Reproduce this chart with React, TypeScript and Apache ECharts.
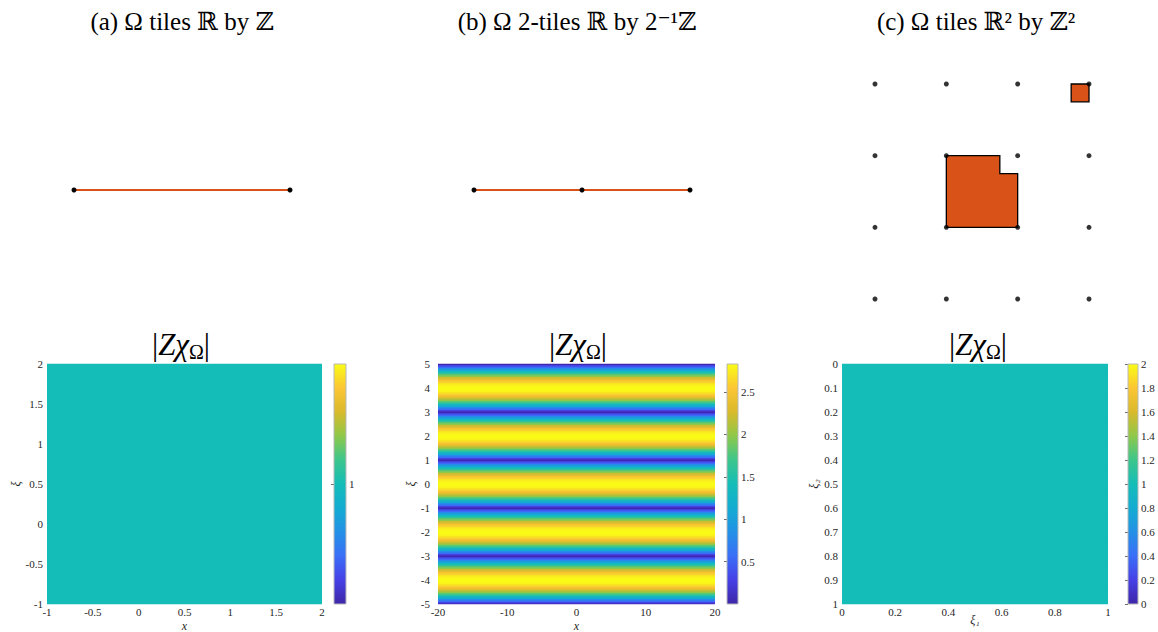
import React, { useEffect, useRef } from "react";
import * as echarts from "echarts";

const FONT = "'Liberation Serif', 'DejaVu Serif', serif";
const ORANGE = "#d95319";

// parula-like colormap stops
const PARULA = [
  "#3e26a8", "#4641e6", "#3a6ef8", "#2391e6", "#13acd2", "#14bdb8",
  "#3cc68c", "#8ec84a", "#d9ba2b", "#fcc634", "#f9fb15",
];

// ---- top row data ----
const segA = [[0, 0], [1, 0]];
const segB = [[0, 0], [0.5, 0], [1, 0]];
const latticeC = [
  [-1, 2], [0, 2], [1, 2], [2, 2],
  [-1, 1], [0, 1], [1, 1], [2, 1],
  [-1, 0], [0, 0], [1, 0], [2, 0],
  [-1, -1], [0, -1], [1, -1], [2, -1],
];
const shapeMain = [[0, 0], [1, 0], [1, 0.75], [0.75, 0.75], [0.75, 1], [0, 1]];
const shapeSmall = [[1.75, 1.75], [2, 1.75], [2, 2], [1.75, 2]];
const SHAPES = [shapeMain, shapeSmall];

// ---- heatmap (a): |Z chi| over x in [-1,2], xi in [-1,2] ----
const xRangeA = [-1, 2];
const xiA = [-1, -0.75, -0.5, -0.25, 0, 0.25, 0.5, 0.75, 1, 1.25, 1.5, 1.75, 2];
const valA = [1, 1, 1, 1, 1, 1, 1, 1, 1, 1, 1, 1, 1];
const cbarA = [0.5, 1.5];

// ---- heatmap (b): |Z chi| over x in [-20,20], xi in [-5,5] (step 0.0625) ----
const xRangeB = [-20, 20];
const xiStartB = -5;
const xiStepB = 0.0625;
const valB = [
  0.01,
  0.28, 0.55, 0.82, 1.08, 1.33, 1.57, 1.80, 2.00, 2.19, 2.35, 2.50, 2.61, 2.71, 2.78, 2.82, 2.83,
  2.82, 2.78, 2.71, 2.61, 2.50, 2.35, 2.19, 2.00, 1.80, 1.57, 1.33, 1.08, 0.82, 0.55, 0.28, 0.01,
  0.28, 0.55, 0.82, 1.08, 1.33, 1.57, 1.80, 2.00, 2.19, 2.35, 2.50, 2.61, 2.71, 2.78, 2.82, 2.83,
  2.82, 2.78, 2.71, 2.61, 2.50, 2.35, 2.19, 2.00, 1.80, 1.57, 1.33, 1.08, 0.82, 0.55, 0.28, 0.01,
  0.28, 0.55, 0.82, 1.08, 1.33, 1.57, 1.80, 2.00, 2.19, 2.35, 2.50, 2.61, 2.71, 2.78, 2.82, 2.83,
  2.82, 2.78, 2.71, 2.61, 2.50, 2.35, 2.19, 2.00, 1.80, 1.57, 1.33, 1.08, 0.82, 0.55, 0.28, 0.01,
  0.28, 0.55, 0.82, 1.08, 1.33, 1.57, 1.80, 2.00, 2.19, 2.35, 2.50, 2.61, 2.71, 2.78, 2.82, 2.83,
  2.82, 2.78, 2.71, 2.61, 2.50, 2.35, 2.19, 2.00, 1.80, 1.57, 1.33, 1.08, 0.82, 0.55, 0.28, 0.01,
  0.28, 0.55, 0.82, 1.08, 1.33, 1.57, 1.80, 2.00, 2.19, 2.35, 2.50, 2.61, 2.71, 2.78, 2.82, 2.83,
  2.82, 2.78, 2.71, 2.61, 2.50, 2.35, 2.19, 2.00, 1.80, 1.57, 1.33, 1.08, 0.82, 0.55, 0.28, 0.01,
];
const cbarB = [0, 2.83];

// ---- heatmap (c): |Z chi| over [0,1]^2 ----
const xRangeC = [0, 1];
const xiC = [0, 0.1, 0.2, 0.3, 0.4, 0.5, 0.6, 0.7, 0.8, 0.9, 1];
const valC = [1, 1, 1, 1, 1, 1, 1, 1, 1, 1, 1];
const cbarC = [0, 2];

function cells(xr: number[], xis: number[], vals: number[], half: number, lo: number, hi: number) {
  return vals.map((v, i) => [
    xr[0], xr[1],
    Math.max(lo, xis[i] - half), Math.min(hi, xis[i] + half), v,
  ]);
}

const heatRender = (params: any, api: any) => {
  const a = api.coord([api.value(0), api.value(2)]);
  const b = api.coord([api.value(1), api.value(3)]);
  const x = Math.min(a[0], b[0]);
  const y = Math.min(a[1], b[1]);
  return {
    type: "rect",
    shape: { x, y: y - 0.3, width: Math.abs(b[0] - a[0]), height: Math.abs(b[1] - a[1]) + 0.6 },
    style: { fill: api.visual("color") },
  };
};

const cbarRender = (params: any, api: any) => {
  const a = api.coord([0, api.value(2)]);
  const b = api.coord([1, api.value(3)]);
  return {
    type: "rect",
    shape: { x: a[0], y: b[1], width: b[0] - a[0], height: a[1] - b[1] },
    style: {
      fill: new echarts.graphic.LinearGradient(
        0, 1, 0, 0,
        PARULA.map((c, i) => ({ offset: i / (PARULA.length - 1), color: c }))
      ),
      stroke: "#b8b8b8",
      lineWidth: 1,
    },
  };
};

const polyRender = (params: any, api: any) => {
  const pts = SHAPES[params.dataIndex].map((p) => api.coord(p));
  return {
    type: "polygon",
    shape: { points: pts },
    style: { fill: ORANGE, stroke: "#000", lineWidth: 1.3 },
  };
};

const labelStyle = { fontFamily: FONT, fontSize: 11, color: "#262626" };
const nameStyle = { fontFamily: FONT, fontSize: 12, lineHeight: 13, fontStyle: "italic", color: "#262626" };

function hiddenAxis(min: number, max: number, gridIndex: number) {
  return { type: "value", gridIndex, min, max, show: false };
}

function heatX(gridIndex: number, min: number, max: number, interval: number, name: string, gap: number) {
  return {
    type: "value", gridIndex, min, max, interval,
    axisLine: { show: false }, axisTick: { show: false }, splitLine: { show: false },
    axisLabel: { ...labelStyle, margin: 2, lineHeight: 12 },
    name, nameLocation: "middle", nameGap: gap, nameMoveOverlap: false, nameTextStyle: nameStyle,
  };
}
function heatY(gridIndex: number, min: number, max: number, interval: number, name: string, gap: number, inverse = false, margin = 4) {
  return {
    type: "value", gridIndex, min, max, interval, inverse,
    axisLine: { show: false }, axisTick: { show: false }, splitLine: { show: false },
    axisLabel: { ...labelStyle, margin },
    name, nameLocation: "middle", nameGap: gap, nameMoveOverlap: false, nameTextStyle: nameStyle,
  };
}
function cbarY(gridIndex: number, min: number, max: number, interval: number, showEnds: boolean) {
  return {
    type: "value", gridIndex, min, max, interval, position: "right",
    axisLine: { show: false }, splitLine: { show: false },
    axisTick: { show: true, inside: true, length: 3, lineStyle: { color: "#444", width: 0.8 } },
    axisLabel: { ...labelStyle, margin: 3, showMinLabel: showEnds, showMaxLabel: showEnds },
  };
}

const titleRich = {
  i: { fontFamily: FONT, fontSize: 31, fontStyle: "italic", lineHeight: 36, fill: "#000" },
  s: { fontFamily: FONT, fontSize: 20, verticalAlign: "bottom", lineHeight: 15, fill: "#000" },
  n: { fontFamily: FONT, fontSize: 31, lineHeight: 36, fill: "#000" },
};

export default function App() {
  const ref = useRef<HTMLDivElement>(null);
  useEffect(() => {
    document.body.style.margin = "0";
    const chart = echarts.init(ref.current!, undefined, { renderer: "svg" });
    const g = (left: number, top: number, width: number, height: number) => ({
      left, top, width, height, outerBoundsMode: "none", containLabel: false,
    });
    const option: any = {
      animation: false,
      backgroundColor: "#fff",
      grid: [
        g(74, 140, 216, 100),
        g(474, 140, 216, 100),
        g(875, 84, 214, 215),
        g(47, 364, 275, 240),
        g(334, 364, 12, 240),
        g(438, 364, 277, 240),
        g(727, 364, 11, 240),
        g(842, 364, 266, 240),
        g(1128, 364, 10, 240),
      ],
      xAxis: [
        hiddenAxis(0, 1, 0),
        hiddenAxis(0, 1, 1),
        hiddenAxis(-1, 2, 2),
        heatX(3, xRangeA[0], xRangeA[1], 0.5, "x", 15),
        hiddenAxis(0, 1, 4),
        heatX(5, xRangeB[0], xRangeB[1], 10, "x", 15),
        hiddenAxis(0, 1, 6),
        heatX(7, xRangeC[0], xRangeC[1], 0.2, "ξ₁", 9),
        hiddenAxis(0, 1, 8),
      ],
      yAxis: [
        hiddenAxis(-1, 1, 0),
        hiddenAxis(-1, 1, 1),
        hiddenAxis(-1, 2, 2),
        heatY(3, -1, 2, 0.5, "ξ", 25),
        cbarY(4, cbarA[0], cbarA[1], 0.5, false),
        heatY(5, -5, 5, 1, "ξ", 21, false, 8),
        cbarY(6, cbarB[0], cbarB[1], 0.5, false),
        heatY(7, 0, 1, 0.1, "ξ₂", 22, true),
        cbarY(8, cbarC[0], cbarC[1], 0.2, true),
      ],
      visualMap: [
        { type: "continuous", show: false, seriesIndex: 4, dimension: 4, min: cbarA[0], max: cbarA[1], inRange: { color: PARULA } },
        { type: "continuous", show: false, seriesIndex: 6, dimension: 4, min: cbarB[0], max: cbarB[1], inRange: { color: PARULA } },
        { type: "continuous", show: false, seriesIndex: 8, dimension: 4, min: cbarC[0], max: cbarC[1], inRange: { color: PARULA } },
      ],
      series: [
        {
          type: "line", xAxisIndex: 0, yAxisIndex: 0, data: segA, clip: false,
          symbol: "circle", symbolSize: 5, showSymbol: true,
          lineStyle: { color: ORANGE, width: 1.8 }, itemStyle: { color: "#000" },
        },
        {
          type: "line", xAxisIndex: 1, yAxisIndex: 1, data: segB, clip: false,
          symbol: "circle", symbolSize: 5, showSymbol: true,
          lineStyle: { color: ORANGE, width: 1.8 }, itemStyle: { color: "#000" },
        },
        {
          type: "custom", xAxisIndex: 2, yAxisIndex: 2, renderItem: polyRender,
          data: SHAPES.map((s) => s[0]), clip: false,
        },
        {
          type: "scatter", xAxisIndex: 2, yAxisIndex: 2, data: latticeC, clip: false,
          symbol: "circle", symbolSize: 5, itemStyle: { color: "#000" },
        },
        {
          type: "custom", xAxisIndex: 3, yAxisIndex: 3, renderItem: heatRender,
          encode: { x: [0, 1], y: [2, 3] },
          data: cells(xRangeA, xiA, valA, 0.125, -1, 2),
        },
        {
          type: "custom", xAxisIndex: 4, yAxisIndex: 4, renderItem: cbarRender,
          encode: { x: [0, 1], y: [2, 3] }, data: [[0, 1, cbarA[0], cbarA[1]]],
        },
        {
          type: "custom", xAxisIndex: 5, yAxisIndex: 5, renderItem: heatRender,
          encode: { x: [0, 1], y: [2, 3] },
          data: cells(xRangeB, valB.map((_, i) => xiStartB + i * xiStepB), valB, xiStepB / 2, -5, 5),
        },
        {
          type: "custom", xAxisIndex: 6, yAxisIndex: 6, renderItem: cbarRender,
          encode: { x: [0, 1], y: [2, 3] }, data: [[0, 1, cbarB[0], cbarB[1]]],
        },
        {
          type: "custom", xAxisIndex: 7, yAxisIndex: 7, renderItem: heatRender,
          encode: { x: [0, 1], y: [2, 3] },
          data: cells(xRangeC, xiC, valC, 0.05, 0, 1),
        },
        {
          type: "custom", xAxisIndex: 8, yAxisIndex: 8, renderItem: cbarRender,
          encode: { x: [0, 1], y: [2, 3] }, data: [[0, 1, cbarC[0], cbarC[1]]],
        },
      ],
      graphic: [
        { type: "text", x: 182, y: 21, style: { text: "(a) Ω tiles ℝ by ℤ", fontFamily: FONT, fontSize: 25, fill: "#000", align: "center", verticalAlign: "middle" } },
        { type: "text", x: 577, y: 21, style: { text: "(b) Ω 2-tiles ℝ by 2⁻¹ℤ", fontFamily: FONT, fontSize: 25, fill: "#000", align: "center", verticalAlign: "middle" } },
        { type: "text", x: 976, y: 21, style: { text: "(c) Ω tiles ℝ² by ℤ²", fontFamily: FONT, fontSize: 25, fill: "#000", align: "center", verticalAlign: "middle" } },
        { type: "text", x: 181, y: 344, style: { text: "{n||}{i|Zχ}{s|Ω}{n||}", rich: titleRich, align: "center", verticalAlign: "middle" } },
        { type: "text", x: 578, y: 344, style: { text: "{n||}{i|Zχ}{s|Ω}{n||}", rich: titleRich, align: "center", verticalAlign: "middle" } },
        { type: "text", x: 978, y: 344, style: { text: "{n||}{i|Zχ}{s|Ω}{n||}", rich: titleRich, align: "center", verticalAlign: "middle" } },
      ],
    };
    chart.setOption(option);
    return () => chart.dispose();
  }, []);
  return <div ref={ref} style={{ width: 1158, height: 632 }} />;
}
